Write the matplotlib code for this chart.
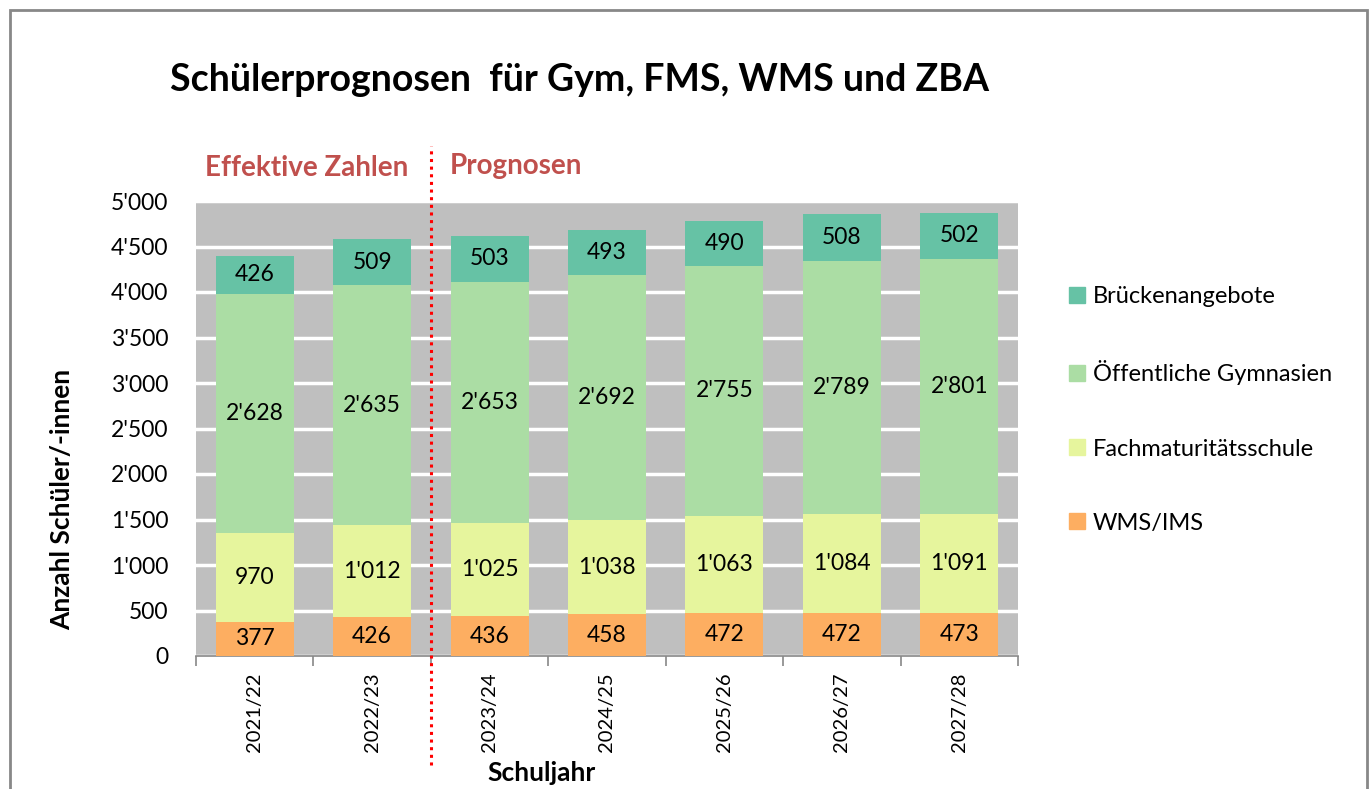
import numpy as np
import matplotlib.pyplot as plt
from matplotlib.ticker import FuncFormatter, FixedLocator
from matplotlib.patches import Rectangle, Patch

plt.rcParams['font.family'] = ['Lato', 'DejaVu Sans']

# Daten
jahre = ['2021/22', '2022/23', '2023/24', '2024/25', '2025/26', '2026/27', '2027/28']
wms_ims = [377, 426, 436, 458, 472, 472, 473]
fms = [970, 1012, 1025, 1038, 1063, 1084, 1091]
gymnasien = [2628, 2635, 2653, 2692, 2755, 2789, 2801]
bruecke = [426, 509, 503, 493, 490, 508, 502]

serien = [
    ('WMS/IMS', wms_ims, '#fdae61'),
    ('Fachmaturitätsschule', fms, '#e6f59d'),
    ('Öffentliche Gymnasien', gymnasien, '#abdda4'),
    ('Brückenangebote', bruecke, '#66c2a5'),
]


def fmt(v, pos=None):
    return f"{int(v):,}".replace(',', "'")


fig = plt.figure(figsize=(13.72, 7.89), dpi=100)
ax = fig.add_axes([196 / 1372, 1 - 656 / 789, (1018 - 196) / 1372, (656 - 201) / 789])
ax.set_facecolor('#bfbfbf')

x = np.arange(len(jahre))
unten = np.zeros(len(jahre))
for name, werte, farbe in serien:
    werte = np.array(werte)
    ax.bar(x, werte, bottom=unten, width=0.665, color=farbe, label=name, zorder=3)
    for xi, b, w in zip(x, unten, werte):
        ax.text(xi, b + w / 2, fmt(w), ha='center', va='center', fontsize=16.5, zorder=4)
    unten += werte

ax.set_xlim(-0.5, len(jahre) - 0.5)
ax.set_ylim(0, 5000)
ax.set_yticks(np.arange(0, 5001, 500))
ax.yaxis.set_major_formatter(FuncFormatter(fmt))
ax.tick_params(axis='y', length=0, labelsize=16.5, pad=20)
ax.grid(axis='y', color='white', linewidth=2.5, zorder=1)
ax.set_axisbelow(True)

ax.set_xticks(x)
ax.set_xticklabels(jahre, rotation=90, fontsize=14.5)
ax.xaxis.set_minor_locator(FixedLocator(np.arange(-0.5, len(jahre), 1)))
ax.tick_params(axis='x', which='major', length=0, pad=12)
ax.tick_params(axis='x', which='minor', length=7, color='#888888', width=1.2)

for s in ['top', 'right', 'left']:
    ax.spines[s].set_visible(False)
ax.spines['bottom'].set_color('#888888')
ax.spines['bottom'].set_linewidth(1.2)

# Trennlinie effektive Zahlen / Prognosen
ax.plot([1.5, 1.5], [-1200, 5600], color='red', linestyle=(0, (1, 1.5)),
        linewidth=2.2, clip_on=False, zorder=5)

fig.text(307 / 1372, 1 - 168 / 789, 'Effektive Zahlen', color='#c0504d',
         fontsize=20, fontweight='bold', ha='center', va='center')
fig.text(450 / 1372, 1 - 166 / 789, 'Prognosen', color='#c0504d',
         fontsize=20, fontweight='bold', ha='left', va='center')

fig.text(580 / 1372, 1 - 80 / 789, 'Schülerprognosen  für Gym, FMS, WMS und ZBA',
         fontsize=27, fontweight='bold', ha='center', va='center')
fig.text(62 / 1372, 1 - 499 / 789, 'Anzahl Schüler/-innen', rotation=90,
         fontsize=19, fontweight='bold', ha='center', va='center')
fig.text(542 / 1372, 1 - 773 / 789, 'Schuljahr', fontsize=19,
         fontweight='bold', ha='center', va='center')

handles = [Patch(color=f) for _, _, f in serien][::-1]
labels = [n for n, _, _ in serien][::-1]
fig.legend(handles, labels, loc='upper left', bbox_to_anchor=(1048 / 1372, 1 - 265 / 789),
           frameon=False, fontsize=17, labelspacing=2.25, handlelength=0.65,
           handleheight=0.65, handletextpad=0.35)

# Rahmen
fig.patches.append(Rectangle((10 / 1372, -0.05), 1357 / 1372, 1.05 - 10 / 789,
                             transform=fig.transFigure, fill=False,
                             edgecolor='#888888', linewidth=2))

fig.savefig('out.png', dpi=100)
